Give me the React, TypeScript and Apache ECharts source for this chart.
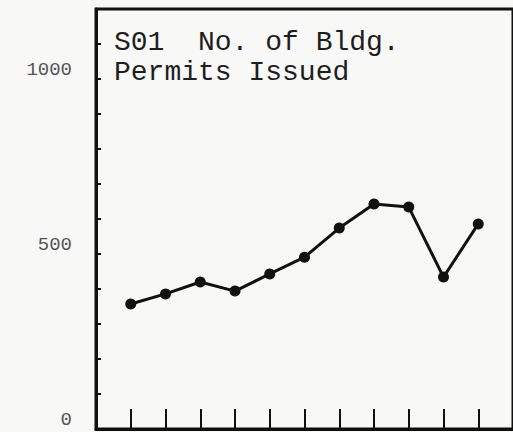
import React, { useEffect, useRef } from "react";
import * as echarts from "echarts";

const xPositions = [1, 2, 3, 4, 5, 6, 7, 8, 9, 10, 11];
const permits = [357, 386, 420, 394, 443, 491, 574, 643, 634, 434, 586];
const yLabels = [0, 500, 1000];
const titleLines = ["S01  No. of Bldg.", "Permits Issued"];

export default function App() {
  const ref = useRef<HTMLDivElement>(null);
  useEffect(() => {
    document.body.style.margin = "0";
    const chart = echarts.init(ref.current!, null, { renderer: "svg" });
    const titleStyle = {
      fontFamily: "Liberation Mono",
      fontSize: 28,
      fontWeight: "normal",
      color: "#1e1e1e",
    };
    chart.setOption({
      animation: false,
      backgroundColor: "#f8f8f7",
      title: titleLines.map((t, i) => ({
        text: t,
        left: 114,
        top: 28 + i * 30,
        padding: 0,
        textStyle: titleStyle,
      })),
      grid: {
        left: 96,
        top: 9,
        width: 420,
        height: 420,
        show: true,
        borderColor: "#111",
        borderWidth: 3,
        backgroundColor: "transparent",
      },
      xAxis: {
        type: "value",
        min: 0,
        max: 12,
        interval: 1,
        axisLine: { show: true, lineStyle: { color: "#111", width: 3 } },
        axisTick: {
          show: true,
          inside: true,
          length: 20,
          lineStyle: { color: "#111", width: 2 },
          customValues: xPositions,
        },
        axisLabel: { show: false },
        splitLine: { show: false },
      },
      yAxis: {
        type: "value",
        min: 0,
        max: 1200,
        interval: 100,
        axisLine: { show: true, lineStyle: { color: "#111", width: 3 } },
        axisTick: {
          show: true,
          inside: true,
          length: 5,
          lineStyle: { color: "#111", width: 2 },
        },
        axisLabel: {
          margin: 24,
          fontFamily: "Liberation Mono",
          fontSize: 19,
          color: "#555",
          verticalAlign: "bottom",
          formatter: (v: number) => (yLabels.includes(v) ? String(v) : ""),
        },
        splitLine: { show: false },
      },
      series: [
        {
          type: "line",
          data: xPositions.map((x, i) => [x, permits[i]]),
          symbol: "circle",
          symbolSize: 11,
          lineStyle: { color: "#111", width: 3 },
          itemStyle: { color: "#111" },
        },
      ],
    });
    return () => chart.dispose();
  }, []);
  return <div ref={ref} style={{ width: 513, height: 432 }} />;
}
